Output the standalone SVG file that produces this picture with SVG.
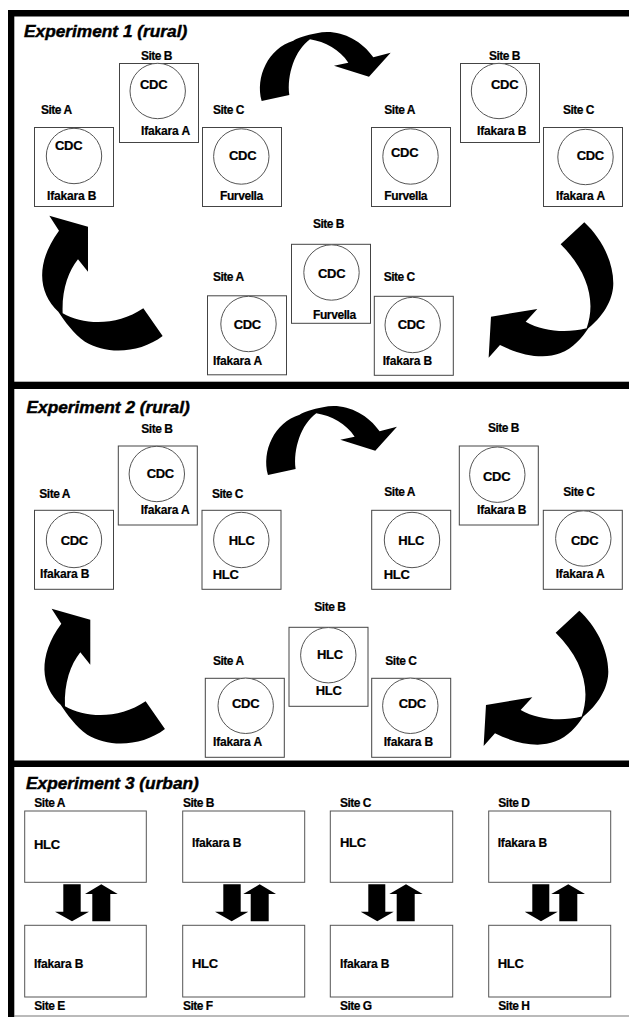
<svg xmlns="http://www.w3.org/2000/svg" width="629" height="1017" viewBox="0 0 629 1017">
<style>
text{font-family:"Liberation Sans",Arial,sans-serif;font-weight:700;fill:#000;font-size:12px;stroke:#000;stroke-width:.2px}
.t{font-size:17.3px;font-style:italic;stroke-width:.45px}
.s{letter-spacing:-.5px}
.l{letter-spacing:-.15px}
.f{letter-spacing:-.4px}
.c{font-size:13px;letter-spacing:-.3px}
.n rect,.n circle{fill:#fff;stroke:#444;stroke-width:1}
.n circle{stroke:#555}
.w rect{fill:#fff;stroke:#555;stroke-width:1}
.a{fill:#000}
</style>
<defs>
<path id="arcTop" transform="translate(240 0) scale(.3333)" d="M65 303L148 285C140 225 165 150 210 118C255 125 300 150 325 188L282 197L387 230L452 158L400 172C360 115 290 85 230 100C200 105 170 115 160 122C85 145 45 230 65 303Z"/>
<path id="arcLeft" transform="translate(0 200) scale(.3333)" d="M148 47L264 80L264 215L234 178C205 215 185 270 188 340C250 375 350 380 430 325L488 408C420 460 320 465 255 425C220 400 195 365 175 335C115 280 105 190 177 92Z"/>
<path id="arcRight" transform="translate(320 200) scale(.3333)" d="M793 67L722 133C800 210 830 300 800 385C740 400 670 395 617 365L652 327L513 350L506 473L540 435C600 465 670 480 720 460C760 445 785 415 805 385C860 340 880 290 880 250C880 180 840 110 793 67Z"/>
</defs>
<rect width="629" height="1017" fill="#fff"/>
<g id="frame">
<rect x="8" y="10" width="6.3" height="1007"/>
<rect x="8" y="10" width="621" height="6.5"/>
<rect x="8" y="381.7" width="621" height="7.3"/>
<rect x="8" y="760.5" width="621" height="6.5"/>
<rect x="14" y="1015.5" width="615" height="1" fill="#777"/>
</g>
<g id="titles">
<text class="t" x="24" y="37">Experiment 1 (rural)</text>
<text class="t" x="26.5" y="413.3">Experiment 2 (rural)</text>
<text class="t" x="26" y="789.3">Experiment 3 (urban)</text>
</g>
<g id="connectors" class="a">
<use href="#arcTop"/>
<use href="#arcLeft"/>
<use href="#arcRight"/>
<use href="#arcTop" transform="translate(6.3 374)"/>
<use href="#arcLeft" transform="translate(2.3 393)"/>
<use href="#arcRight" transform="translate(-5 388.3)"/>
<path d="M63.3 884.3H80.7V911.7H89L72 921.3L55 911.7H63.3Z"/>
<path d="M92.3 921.3H110.3V894H117.7L101.3 884.3L85 894H92.3Z"/>
<path d="M223.3 884.3H240.7V911.7H248.3L231.7 921.3L215 911.7H223.3Z"/>
<path d="M250.7 921.3H268.7V894H276L259.7 884.3L243.3 894H250.7Z"/>
<path d="M368.3 884.3H385.3V911.7H393.7L377.3 921.3L360.7 911.7H368.3Z"/>
<path d="M396.7 921.3H414.7V894H422.7L406 884.3L389.3 894H396.7Z"/>
<path d="M532.3 884.3H549.3V911.7H557.7L541 921.3L524.7 911.7H532.3Z"/>
<path d="M559.3 921.3H577.3V894H585L568.3 884.3L551.3 894H559.3Z"/>
</g>
<g id="e1-a1" class="n"><rect x="34.5" y="127.5" width="79" height="79"/><circle cx="74" cy="156" r="27.7"/><text class="s" x="41" y="114">Site A</text><text class="c" x="55" y="150">CDC</text><text class="l" x="47" y="200">Ifakara B</text></g>
<g id="e1-b1" class="n"><rect x="119.5" y="63.5" width="79" height="79"/><circle cx="157.7" cy="91" r="27.7"/><text class="s" x="141" y="59.7">Site B</text><text class="c" x="140" y="88.7">CDC</text><text class="l" x="141" y="135">Ifakara A</text></g>
<g id="e1-c1" class="n"><rect x="202.5" y="127.5" width="79" height="79"/><circle cx="241.3" cy="156.5" r="27.7"/><text class="s" x="213" y="114">Site C</text><text class="c" x="229" y="159.5">CDC</text><text class="f" x="220" y="200">Furvella</text></g>
<g id="e1-a2" class="n"><rect x="371.5" y="127.5" width="79" height="79"/><circle cx="410.5" cy="156.5" r="27.7"/><text class="s" x="384.3" y="114">Site A</text><text class="c" x="391" y="157">CDC</text><text class="f" x="384.3" y="200">Furvella</text></g>
<g id="e1-b2" class="n"><rect x="460.5" y="63.5" width="79" height="79"/><circle cx="499" cy="91" r="27.7"/><text class="s" x="489" y="59.7">Site B</text><text class="c" x="491" y="88.7">CDC</text><text class="l" x="477" y="135">Ifakara B</text></g>
<g id="e1-c2" class="n"><rect x="543.5" y="127.5" width="79" height="79"/><circle cx="585.5" cy="157" r="27.7"/><text class="s" x="563" y="114">Site C</text><text class="c" x="576.7" y="159.5">CDC</text><text class="l" x="556" y="200">Ifakara A</text></g>
<g id="e1-a3" class="n"><rect x="207.5" y="295.8" width="79" height="79"/><circle cx="248.5" cy="324" r="27.7"/><text class="s" x="213" y="281">Site A</text><text class="c" x="233.7" y="329">CDC</text><text class="l" x="213" y="365">Ifakara A</text></g>
<g id="e1-b3" class="n"><rect x="291.5" y="244.3" width="79" height="79"/><circle cx="331.5" cy="272.5" r="27.7"/><text class="s" x="313" y="228">Site B</text><text class="c" x="318" y="278">CDC</text><text class="f" x="313" y="319">Furvella</text></g>
<g id="e1-c3" class="n"><rect x="374.3" y="296.3" width="79" height="79"/><circle cx="412.7" cy="325" r="27.7"/><text class="s" x="383.7" y="281">Site C</text><text class="c" x="397.7" y="329">CDC</text><text class="l" x="382.7" y="365">Ifakara B</text></g>
<g id="e2-a1" class="n"><rect x="34.5" y="510.3" width="79" height="79"/><circle cx="74" cy="540" r="27.7"/><text class="s" x="39.3" y="498.3">Site A</text><text class="c" x="60.7" y="545">CDC</text><text class="l" x="40" y="577.7">Ifakara B</text></g>
<g id="e2-b1" class="n"><rect x="118.3" y="446" width="79" height="79"/><circle cx="156.8" cy="474" r="27.7"/><text class="s" x="141.3" y="432.7">Site B</text><text class="c" x="146.7" y="478">CDC</text><text class="l" x="140.7" y="513.7">Ifakara A</text></g>
<g id="e2-c1" class="n"><rect x="202" y="510.3" width="79" height="79"/><circle cx="241.3" cy="540" r="27.7"/><text class="s" x="212" y="498.3">Site C</text><text class="c" x="228.7" y="545">HLC</text><text class="c" x="212.7" y="578.7">HLC</text></g>
<g id="e2-a2" class="n"><rect x="371.7" y="510.3" width="79" height="79"/><circle cx="412" cy="540" r="27.7"/><text class="s" x="384.3" y="496">Site A</text><text class="c" x="398.3" y="545">HLC</text><text class="c" x="383.7" y="578.7">HLC</text></g>
<g id="e2-b2" class="n"><rect x="459.3" y="446" width="79" height="79"/><circle cx="497.3" cy="474.7" r="27.7"/><text class="s" x="488" y="432.3">Site B</text><text class="c" x="483" y="481.3">CDC</text><text class="l" x="477" y="513.7">Ifakara B</text></g>
<g id="e2-c2" class="n"><rect x="543.3" y="510.3" width="79" height="79"/><circle cx="583.3" cy="538.5" r="27.7"/><text class="s" x="563.3" y="496">Site C</text><text class="c" x="571" y="545">CDC</text><text class="l" x="555.7" y="578.3">Ifakara A</text></g>
<g id="e2-a3" class="n"><rect x="205.3" y="678.3" width="79" height="79"/><circle cx="245.7" cy="705.8" r="27.7"/><text class="s" x="213" y="665">Site A</text><text class="c" x="232" y="708.3">CDC</text><text class="l" x="213" y="746">Ifakara A</text></g>
<g id="e2-b3" class="n"><rect x="289" y="627.3" width="79" height="79"/><circle cx="328.3" cy="655.2" r="27.7"/><text class="s" x="314.3" y="611">Site B</text><text class="c" x="317" y="659.3">HLC</text><text class="c" x="315.7" y="695">HLC</text></g>
<g id="e2-c3" class="n"><rect x="371.7" y="678.3" width="79" height="79"/><circle cx="410.3" cy="705.8" r="27.7"/><text class="s" x="385.3" y="665">Site C</text><text class="c" x="398.7" y="708.3">CDC</text><text class="l" x="383.7" y="746">Ifakara B</text></g>
<g id="e3-a" class="w"><rect x="24.7" y="811" width="121.6" height="71.3"/><text class="s" x="34.3" y="807.3">Site A</text><text class="c" x="34" y="849">HLC</text></g>
<g id="e3-b" class="w"><rect x="182.7" y="811" width="122" height="71.3"/><text class="s" x="183" y="807.3">Site B</text><text class="l" x="192" y="847.3">Ifakara B</text></g>
<g id="e3-c" class="w"><rect x="330.3" y="811" width="122.4" height="71.3"/><text class="s" x="340" y="807.3">Site C</text><text class="c" x="340" y="847.3">HLC</text></g>
<g id="e3-d" class="w"><rect x="488.7" y="811" width="122" height="71.3"/><text class="s" x="498.3" y="807.3">Site D</text><text class="l" x="497.7" y="847.3">Ifakara B</text></g>
<g id="e3-e" class="w"><rect x="24.7" y="925.3" width="121.6" height="71.7"/><text class="s" x="34.3" y="1010">Site E</text><text class="l" x="34" y="967.7">Ifakara B</text></g>
<g id="e3-f" class="w"><rect x="182.7" y="925.3" width="122" height="71.7"/><text class="s" x="183" y="1010">Site F</text><text class="c" x="192" y="967.7">HLC</text></g>
<g id="e3-g" class="w"><rect x="330.3" y="925.3" width="122.4" height="71.7"/><text class="s" x="340" y="1010">Site G</text><text class="l" x="340" y="967.7">Ifakara B</text></g>
<g id="e3-h" class="w"><rect x="488.7" y="925.3" width="122" height="71.7"/><text class="s" x="498.3" y="1010">Site H</text><text class="c" x="497.7" y="967.7">HLC</text></g>
</svg>
